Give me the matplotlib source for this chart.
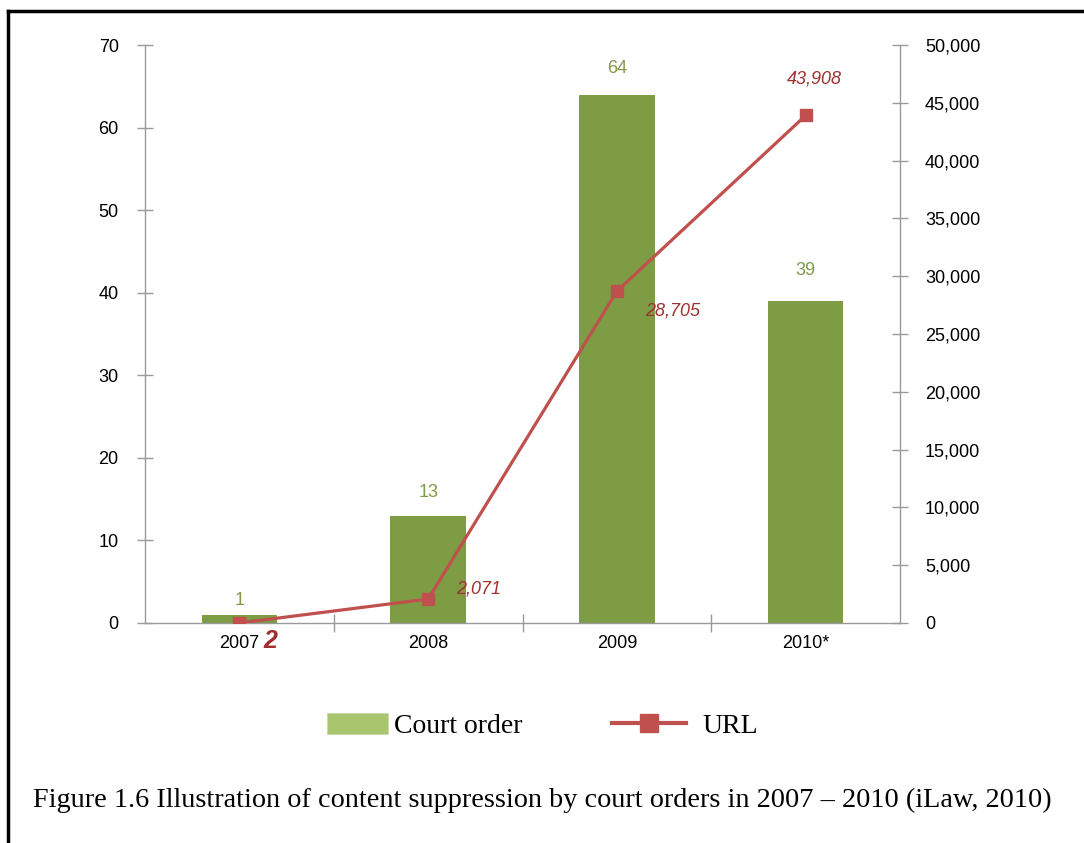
import matplotlib.pyplot as plt
from matplotlib.lines import Line2D
from matplotlib.patches import Patch

# court orders and blocked URLs per year
years = ['2007', '2008', '2009', '2010*']
court_orders = [1, 13, 64, 39]
urls = [2, 2071, 28705, 43908]
url_labels = ['2', '2,071', '28,705', '43,908']
right_ticks = [0, 5000, 10000, 15000, 20000, 25000, 30000, 35000, 40000, 45000, 50000]

bar_green = '#7d9c43'
legend_green = '#a9c66e'
line_red = '#c0504d'
label_red = '#a0302e'
axis_grey = '#9a9a9a'
sans = ['Liberation Sans', 'DejaVu Sans']
serif = ['Liberation Serif', 'DejaVu Serif']

fig = plt.figure(figsize=(10.84, 8.43), dpi=100)
ax = fig.add_axes([0.1338, 0.2610, 0.6965, 0.6856])
ax2 = ax.twinx()

x = list(range(len(years)))
ax.bar(x, court_orders, width=0.4, color=bar_green, zorder=2)
ax.set_xlim(-0.5, 3.5)
ax.set_ylim(0, 70)
ax.set_yticks(range(0, 71, 10))

bar_offsets = [10, 17, 19, 22]
for xi, v, off in zip(x, court_orders, bar_offsets):
    ax.annotate(str(v), (xi, v), xytext=(0, off), textcoords='offset points',
                ha='center', va='center', color='#7f9a48', fontsize=13, family=sans)

ax2.plot(x, urls, color=line_red, lw=2.3, marker='s', ms=8.5, zorder=3)
ax2.set_ylim(0, 50000)
ax2.set_yticks(right_ticks)
ax2.set_yticklabels([f'{t:,}' for t in right_ticks])

# value labels for the URL series
offsets = [(22, -13), (36, 7), (40, -14), (6, 26)]
for xi, v, lab, off in zip(x, urls, url_labels, offsets):
    if xi == 0:
        ax2.annotate(lab, (xi, v), xytext=off, textcoords='offset points', ha='center',
                     va='center', color='#a03030', fontsize=18, fontweight='bold',
                     style='italic', family=sans)
    else:
        ax2.annotate(lab, (xi, v), xytext=off, textcoords='offset points', ha='center',
                     va='center', color=label_red, fontsize=13, style='italic', family=sans)

# axes styling
for a in (ax, ax2):
    a.spines['top'].set_visible(False)
    for s in ('left', 'right', 'bottom'):
        a.spines[s].set_color(axis_grey)
        a.spines[s].set_linewidth(1)
ax.spines['right'].set_visible(False)
ax2.spines['left'].set_visible(False)
ax2.spines['bottom'].set_visible(False)

ax.tick_params(axis='y', direction='inout', length=12, width=1, color=axis_grey,
               pad=13, labelsize=13, labelcolor='black')
ax2.tick_params(axis='y', direction='inout', length=12, width=1, color=axis_grey,
                pad=12, labelsize=13, labelcolor='black')
for lab in ax.get_yticklabels() + ax2.get_yticklabels():
    lab.set_family(sans)

ax.set_xticks(x)
ax.set_xticklabels(years, family=sans, fontsize=13, color='black')
ax.set_xticks([0.5, 1.5, 2.5], minor=True)
ax.tick_params(axis='x', which='major', length=0, pad=9)
ax.tick_params(axis='x', which='minor', direction='inout', length=13, width=1, color=axis_grey)

# legend, one entry per box so each key keeps its own width
leg_kw = dict(loc='center left', frameon=False, borderpad=0, borderaxespad=0,
              prop={'family': serif, 'size': 20})
leg1 = fig.legend([Patch(facecolor=legend_green, edgecolor='#c8dba0', linewidth=0.5)],
                  ['Court order'], bbox_to_anchor=(0.3017, 0.1385),
                  handlelength=2.2, handleheight=0.75, handletextpad=0.2, **leg_kw)
leg2 = fig.legend([Line2D([], [], color=line_red, lw=3, marker='s', ms=13)],
                  ['URL'], bbox_to_anchor=(0.5646, 0.1385),
                  handlelength=2.65, handletextpad=0.6, **leg_kw)

# caption
fig.text(0.500, 0.050, 'Figure 1.6 Illustration of content suppression by court orders in 2007 \u2013 2010 (iLaw, 2010)',
         ha='center', va='center', family=serif, fontsize=20.3)

# page frame (top and left edges)
fig.add_artist(Line2D([0.0075, 1.0], [0.9875, 0.9875], transform=fig.transFigure,
                      color='black', lw=2.5))
fig.add_artist(Line2D([0.0075, 0.0075], [0.0, 0.9875], transform=fig.transFigure,
                      color='black', lw=2.5))

fig.savefig('out.png', dpi=100)
